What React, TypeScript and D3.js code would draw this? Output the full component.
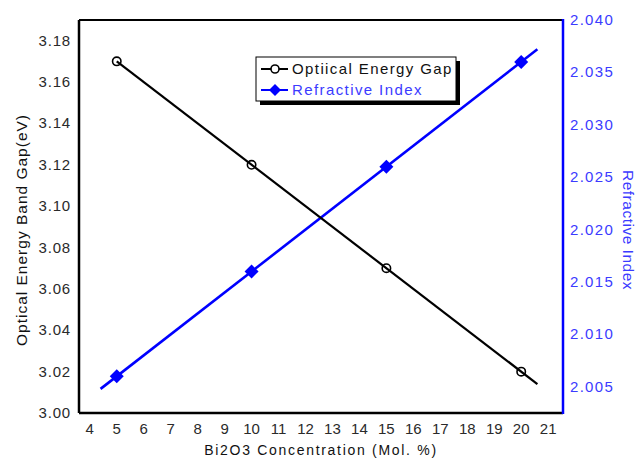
import React, { useRef, useEffect } from 'react';
import * as d3 from 'd3';

// measured data
const concentration = [5, 10, 15, 20];
const energyGap = [3.17, 3.12, 3.07, 3.02];
const refractiveIndex = [2.006, 2.016, 2.026, 2.036];

// fitted lines as drawn in the picture (end points)
const gapFitX = [5, 20.6];
const gapFitY = [3.17, 3.014];
const indexFitX = [4.4, 20.6];
const indexFitY = [2.0048, 2.0372];

const xTicks = d3.range(4, 22);
const leftTicks = [3.0, 3.02, 3.04, 3.06, 3.08, 3.1, 3.12, 3.14, 3.16, 3.18];
const rightTicks = [2.005, 2.01, 2.015, 2.02, 2.025, 2.03, 2.035, 2.04];

const W = 637;
const H = 459;
const margin = { left: 79, top: 20, right: 74, bottom: 46 };
const font = '"Liberation Sans", Arial, sans-serif';
const blue = '#0000ff';
const blueText = '#3b3bff';

export default function App() {
  const svgRef = useRef<SVGSVGElement>(null);

  useEffect(() => {
    const svg = d3.select(svgRef.current);
    svg.selectAll('*').remove();

    const x = d3.scaleLinear().domain([3.6, 21.55]).range([margin.left, W - margin.right]);
    const yL = d3.scaleLinear().domain([3.0, 3.19]).range([H - margin.bottom, margin.top]);
    const yR = d3.scaleLinear().domain([2.0025, 2.04]).range([H - margin.bottom, margin.top]);

    const x0 = margin.left;
    const x1 = W - margin.right;
    const y0 = H - margin.bottom;
    const y1 = margin.top;

    // frame
    svg.append('line').attr('x1', x0).attr('x2', x1).attr('y1', y1).attr('y2', y1)
      .attr('stroke', '#000').attr('stroke-width', 2);
    svg.append('line').attr('x1', x0).attr('x2', x0).attr('y1', y1).attr('y2', y0)
      .attr('stroke', '#000').attr('stroke-width', 2.5);
    svg.append('line').attr('x1', x0).attr('x2', x1).attr('y1', y0).attr('y2', y0)
      .attr('stroke', '#000').attr('stroke-width', 2.5);
    svg.append('line').attr('x1', x1).attr('x2', x1).attr('y1', y1 - 1).attr('y2', y0 + 1)
      .attr('stroke', blue).attr('stroke-width', 2.5);

    // tick labels
    svg.append('g').selectAll('text').data(xTicks).join('text')
      .attr('x', (d) => x(d))
      .attr('y', y0 + 21)
      .attr('text-anchor', 'middle')
      .attr('font-family', font)
      .attr('font-size', 15)
      .attr('fill', '#2a2a2a')
      .text((d) => d);

    svg.append('g').selectAll('text').data(leftTicks).join('text')
      .attr('x', x0 - 8)
      .attr('y', (d) => yL(d) + 5)
      .attr('text-anchor', 'end')
      .attr('font-family', font)
      .attr('font-size', 15)
      .attr('letter-spacing', 0.8)
      .attr('fill', '#2a2a2a')
      .text((d) => d3.format('.2f')(d));

    svg.append('g').selectAll('text').data(rightTicks).join('text')
      .attr('x', x1 + 7)
      .attr('y', (d) => yR(d) + 5)
      .attr('text-anchor', 'start')
      .attr('font-family', font)
      .attr('font-size', 15)
      .attr('letter-spacing', 1.3)
      .attr('fill', blueText)
      .text((d) => d3.format('.3f')(d));

    // axis titles
    svg.append('text')
      .attr('transform', `translate(27,230) rotate(-90)`)
      .attr('text-anchor', 'middle')
      .attr('font-family', font)
      .attr('font-size', 15.5)
      .attr('letter-spacing', 1)
      .attr('fill', '#111')
      .text('Optical Energy Band Gap(eV)');

    svg.append('text')
      .attr('transform', `translate(623,230) rotate(90)`)
      .attr('text-anchor', 'middle')
      .attr('font-family', font)
      .attr('font-size', 15.5)
      .attr('letter-spacing', 0.5)
      .attr('fill', blueText)
      .text('Refractive Index');

    svg.append('text')
      .attr('x', 321)
      .attr('y', 455)
      .attr('text-anchor', 'middle')
      .attr('font-family', font)
      .attr('font-size', 14)
      .attr('letter-spacing', 1.7)
      .attr('fill', '#111')
      .text('Bi2O3 Concentration (Mol. %)');

    // fit lines
    const gapLine = d3.line<number>().x((d) => x(d)).y((_, i) => yL(gapFitY[i]));
    const idxLine = d3.line<number>().x((d) => x(d)).y((_, i) => yR(indexFitY[i]));

    svg.append('path').attr('d', idxLine(indexFitX)).attr('fill', 'none')
      .attr('stroke', blue).attr('stroke-width', 2.6);
    svg.append('path').attr('d', gapLine(gapFitX)).attr('fill', 'none')
      .attr('stroke', '#000').attr('stroke-width', 2.2);

    const diamond = (cx: number, cy: number, r: number) =>
      `M${cx},${cy - r}L${cx + r},${cy}L${cx},${cy + r}L${cx - r},${cy}Z`;

    // points
    svg.append('g').selectAll('path').data(concentration).join('path')
      .attr('d', (d, i) => diamond(x(d), yR(refractiveIndex[i]), 7))
      .attr('fill', blue);

    svg.append('g').selectAll('circle').data(concentration).join('circle')
      .attr('cx', (d) => x(d))
      .attr('cy', (_, i) => yL(energyGap[i]))
      .attr('r', 4.2)
      .attr('fill', 'none')
      .attr('stroke', '#000')
      .attr('stroke-width', 1.6);

    // legend
    const lx = 256;
    const ly = 57;
    const lw = 200;
    const lh = 44;
    svg.append('rect').attr('x', lx + 4).attr('y', ly + 4).attr('width', lw).attr('height', lh)
      .attr('fill', '#000');
    svg.append('rect').attr('x', lx).attr('y', ly).attr('width', lw).attr('height', lh)
      .attr('fill', '#fff').attr('stroke', '#000').attr('stroke-width', 1);

    const items = [
      { label: 'Optiical Energy Gap', color: '#000', text: '#111', sym: 'circle' },
      { label: 'Refractive Index', color: blue, text: blueText, sym: 'diamond' },
    ];
    items.forEach((it, i) => {
      const cy = ly + 12 + i * 21;
      svg.append('line').attr('x1', lx + 5).attr('x2', lx + 32).attr('y1', cy).attr('y2', cy)
        .attr('stroke', it.color).attr('stroke-width', 2);
      if (it.sym === 'circle') {
        svg.append('circle').attr('cx', lx + 19).attr('cy', cy).attr('r', 4)
          .attr('fill', '#fff').attr('stroke', '#000').attr('stroke-width', 1.6);
      } else {
        svg.append('path').attr('d', diamond(lx + 19, cy, 6)).attr('fill', blue);
      }
      svg.append('text')
        .attr('x', lx + 36)
        .attr('y', cy + 5)
        .attr('font-family', font)
        .attr('font-size', 15)
        .attr('letter-spacing', 1.4)
        .attr('fill', it.text)
        .text(it.label);
    });
  }, []);

  return (
    <svg
      ref={svgRef}
      width={W}
      height={H}
      style={{ position: 'absolute', left: 0, top: 0, background: '#fff' }}
      xmlns="http://www.w3.org/2000/svg"
    />
  );
}
